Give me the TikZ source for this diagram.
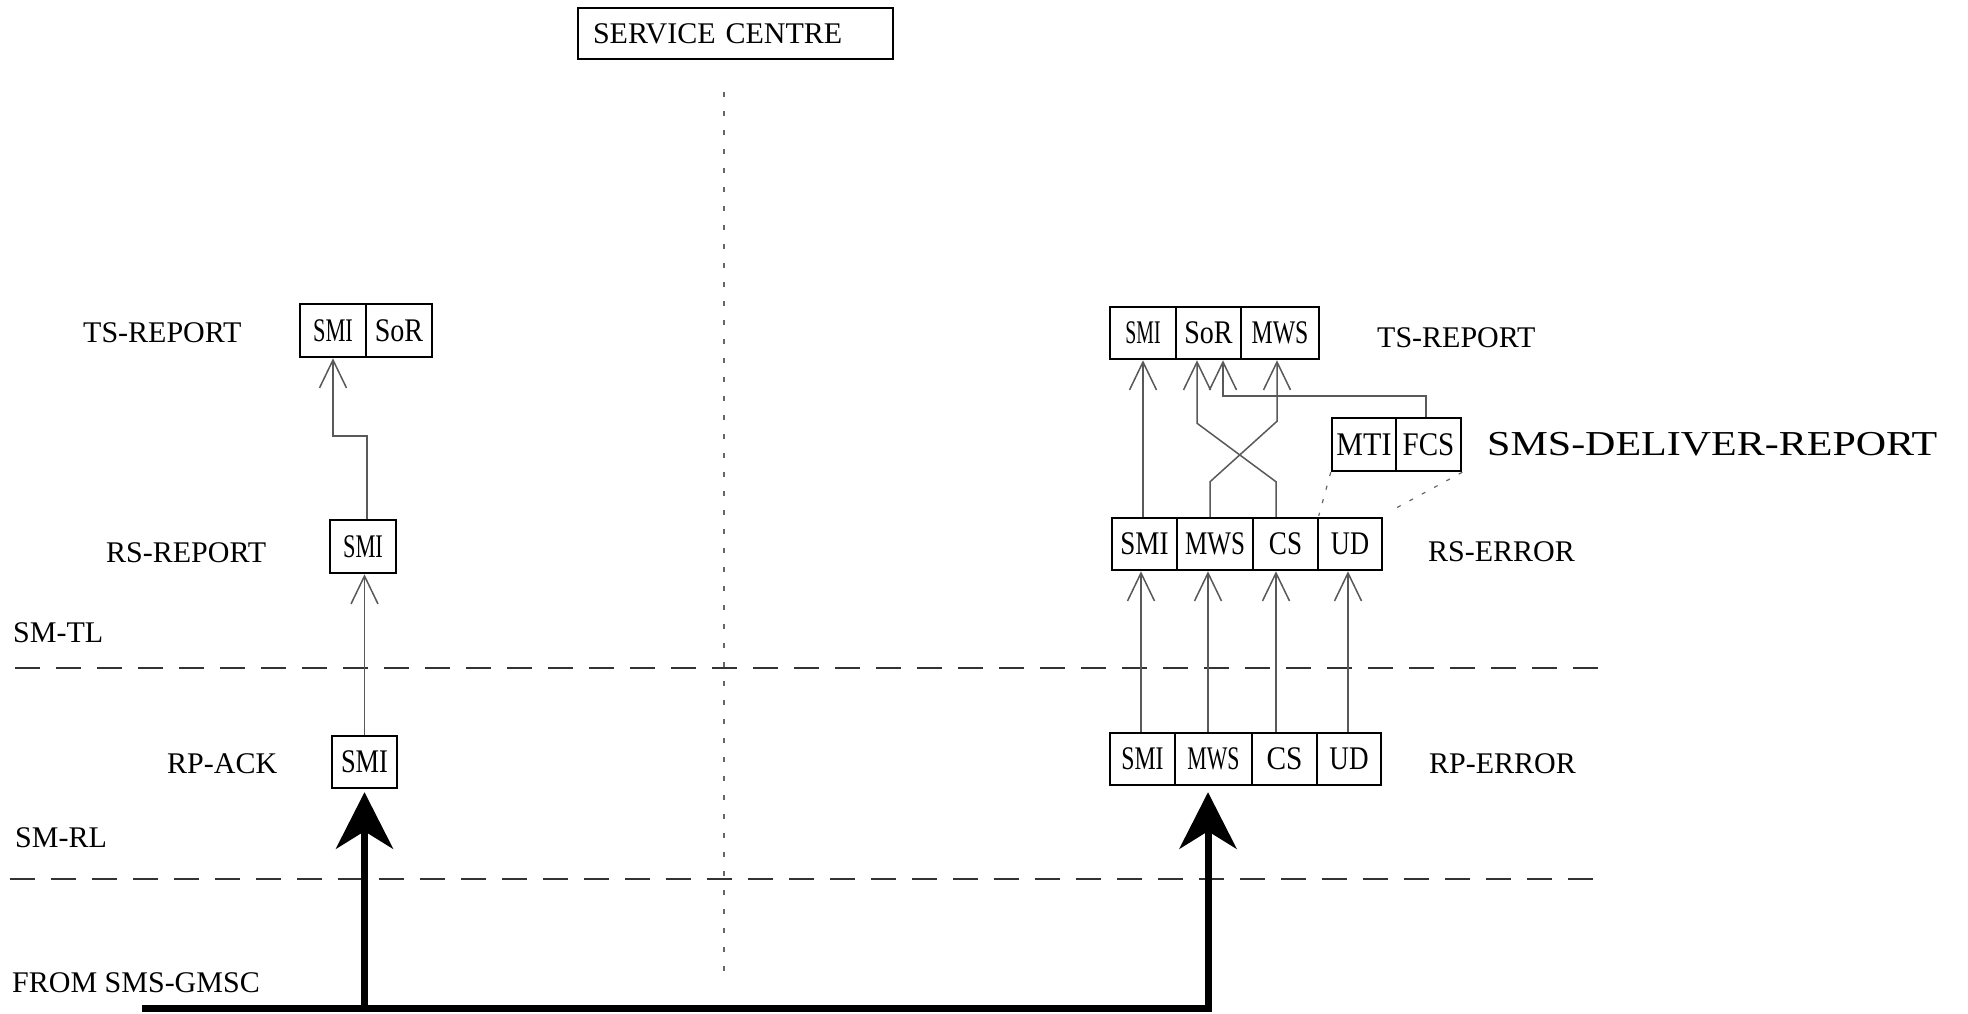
\documentclass[tikz,border=0pt]{standalone}
\usepackage{fontspec}
\usepackage{graphicx}
\setmainfont{Liberation Serif}
\usetikzlibrary{arrows.meta}
\newcommand\lbl[2]{\scalebox{#1}[1]{#2}}
\begin{document}
\begin{tikzpicture}[x=1pt,y=-1pt,
  fbox/.style={draw=black, line width=2.5pt, inner sep=0pt, font=\fontsize{33pt}{38pt}\selectfont},
  txt/.style={inner sep=0pt, font=\fontsize{30pt}{36pt}\selectfont, anchor=base west},
  conn/.style={draw=black!65, line width=1.5pt, -{Straight Barb[length=28pt,width=27pt,line width=1.5pt]}},
  dotconn/.style={draw=black!60, line width=1.2pt, dash pattern=on 4pt off 10pt},
  dotv/.style={draw=black!60, line width=1.2pt, dash pattern=on 5pt off 14pt},
  sep/.style={draw=black!80, line width=1.5pt, dash pattern=on 25pt off 16pt},
  thickln/.style={line width=7pt, -{Stealth[length=57pt,width=58pt,inset=18pt,line width=0pt]}}]
\useasboundingbox[fill=white] (0,0) rectangle (1968,1013);

% service centre
\node[draw=black, line width=1.5pt, inner xsep=15pt, inner ysep=0pt, text width=285pt, align=left,
      minimum height=51pt, font=\fontsize{30pt}{36pt}\selectfont] (sc) at (735.5,33.5) {SERVICE CENTRE};

% separators
\draw[dotv] (724,92) -- (724,979);
\draw[sep] (15,668) -- (1600,668);
\draw[sep] (10,879) -- (1594,879);

% left text labels
\node[txt] (l1) at (83,342) {TS-REPORT};
\node[txt] (l2) at (106,562) {RS-REPORT};
\node[txt] (l3) at (13,642) {SM-TL};
\node[txt] (l4) at (167,773) {RP-ACK};
\node[txt] (l5) at (15,847) {SM-RL};
\node[txt] (l6) at (12,992) {FROM SMS-GMSC};

% right text labels
\node[txt] (r1) at (1377,347) {TS-REPORT};
\node[txt, font=\fontsize{35pt}{40pt}\selectfont] (r2) at (1487,455) {\lbl{1.2}{SMS-DELIVER-REPORT}};
\node[txt] (r3) at (1428,561) {RS-ERROR};
\node[txt] (r4) at (1429,773) {RP-ERROR};

% left boxes
\node[fbox, minimum width=66pt, minimum height=53pt] (tsl1) at (333,330.5) {\lbl{0.68}{SMI}};
\node[fbox, minimum width=66pt, minimum height=53pt] (tsl2) at (399,330.5) {\lbl{0.85}{SoR}};
\node[fbox, minimum width=66pt, minimum height=53pt] (rsr) at (363,546.5) {\lbl{0.68}{SMI}};
\node[fbox, minimum width=65pt, minimum height=52pt] (rpa) at (364.5,762) {\lbl{0.80}{SMI}};

% right boxes
\node[fbox, minimum width=66pt, minimum height=52pt] (tsr1) at (1143,333) {\lbl{0.60}{SMI}};
\node[fbox, minimum width=65pt, minimum height=52pt] (tsr2) at (1208.5,333) {\lbl{0.85}{SoR}};
\node[fbox, minimum width=78pt, minimum height=52pt] (tsr3) at (1280,333) {\lbl{0.72}{MWS}};

\node[fbox, minimum width=64pt, minimum height=53pt] (mti) at (1364,444.5) {\lbl{0.91}{MTI}};
\node[fbox, minimum width=65pt, minimum height=53pt] (fcs) at (1428.5,444.5) {\lbl{0.88}{FCS}};

\node[fbox, minimum width=65pt, minimum height=52pt] (rse1) at (1144.5,544) {\lbl{0.82}{SMI}};
\node[fbox, minimum width=76pt, minimum height=52pt] (rse2) at (1215,544) {\lbl{0.76}{MWS}};
\node[fbox, minimum width=65pt, minimum height=52pt] (rse3) at (1285.5,544) {\lbl{0.82}{CS}};
\node[fbox, minimum width=64pt, minimum height=52pt] (rse4) at (1350,544) {\lbl{0.80}{UD}};

\node[fbox, minimum width=65pt, minimum height=52pt] (rpe1) at (1142.5,759) {\lbl{0.72}{SMI}};
\node[fbox, minimum width=77pt, minimum height=52pt] (rpe2) at (1213.5,759) {\lbl{0.66}{MWS}};
\node[fbox, minimum width=65pt, minimum height=52pt] (rpe3) at (1284.5,759) {\lbl{0.89}{CS}};
\node[fbox, minimum width=64pt, minimum height=52pt] (rpe4) at (1349,759) {\lbl{0.82}{UD}};

% left connectors
\draw[conn] (rpa.north) -- (rpa.north |- rsr.south);
\draw[conn] ([xshift=4pt]rsr.north) -- ++(0,-83) -| (tsl1.south);

% right connectors RP -> RS
\draw[conn] ([xshift=-1.5pt]rpe1.north) -- ([xshift=-1.5pt]rpe1.north |- rse1.south);
\draw[conn] ([xshift=-5.5pt]rpe2.north) -- ([xshift=-5.5pt]rpe2.north |- rse2.south);
\draw[conn] ([xshift=-8.5pt]rpe3.north) -- ([xshift=-8.5pt]rpe3.north |- rse3.south);
\draw[conn] ([xshift=-1pt]rpe4.north) -- ([xshift=-1pt]rpe4.north |- rse4.south);

% RS -> TS
\draw[conn] ([xshift=-1.5pt]rse1.north) -- ([xshift=-1.5pt]rse1.north |- tsr1.south);
\draw[conn] ([xshift=-5pt]rse2.north) -- ++(0,-35) -- ([xshift=-3pt,yshift=-61pt]tsr3.south) -- ([xshift=-3pt]tsr3.south);
\draw[conn] ([xshift=-9.5pt]rse3.north) -- ++(0,-35) -- ([xshift=-11.5pt,yshift=-63pt]tsr2.south) -- ([xshift=-11.5pt]tsr2.south);
\draw[conn] ([xshift=-2.5pt]fcs.north) -- ++(0,-21) -| ([xshift=14.5pt]tsr2.south);

% dotted links
\draw[dotconn] (mti.south west) -- ([xshift=2pt,yshift=1pt]rse4.north west);
\draw[dotconn] (fcs.south east) -- ([xshift=6pt,yshift=5pt]rse4.north east);

% thick arrows from SMS-GMSC
\coordinate (gm) at (142,1008);
\draw[thickln] (gm) -| ([xshift=-5.5pt,yshift=-6pt]rpe2.south);
\draw[thickln] (rpa.south |- gm) -- ([yshift=-3pt]rpa.south);
\end{tikzpicture}
\end{document}
